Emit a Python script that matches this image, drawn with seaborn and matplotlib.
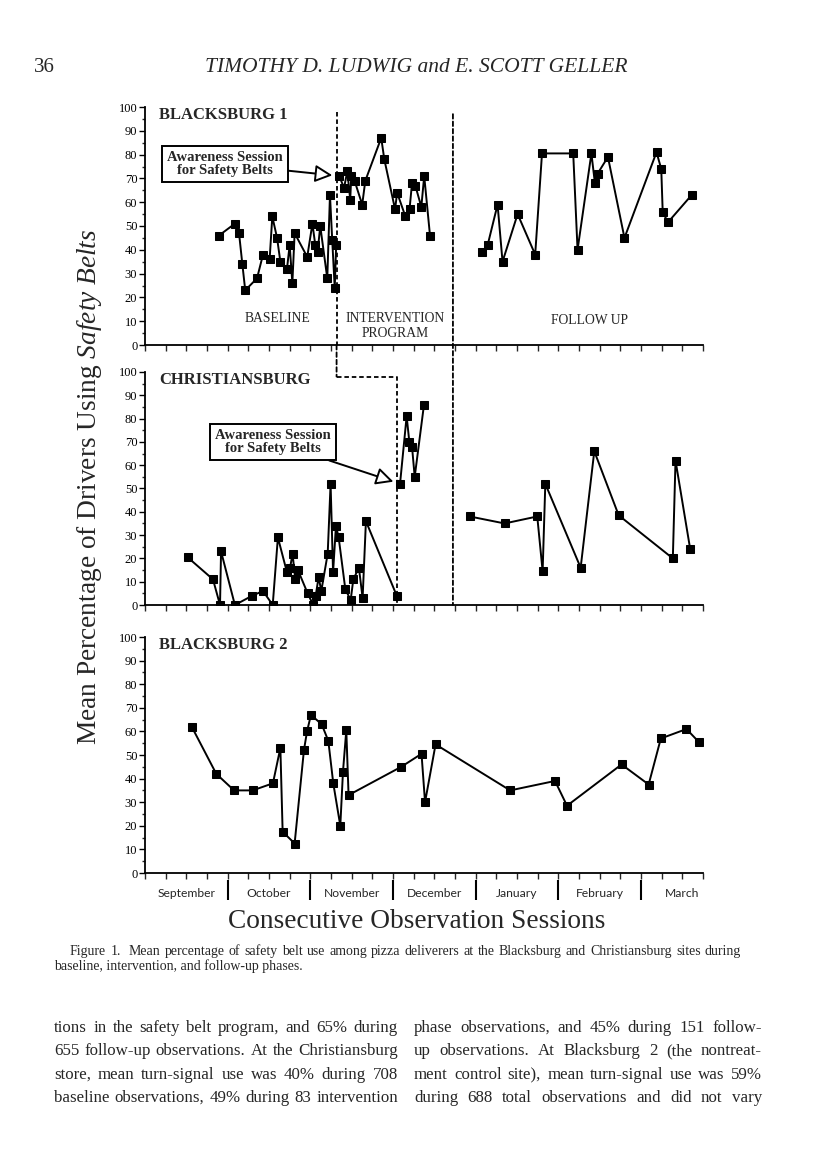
import numpy as np
import pandas as pd
import matplotlib
matplotlib.use("Agg")
import matplotlib.pyplot as plt
import seaborn as sns
from matplotlib.patches import ConnectionPatch
from matplotlib.ticker import MultipleLocator

# ---------------- data (x = weeks from start of September) ----------------
b1_base_x = [3.58, 4.35, 4.55, 4.71, 4.85, 5.42, 5.71, 6.03, 6.16, 6.39, 6.55, 6.87, 7.0, 7.13, 7.24,
             7.85, 8.1, 8.24, 8.35, 8.48, 8.82, 8.95, 9.06, 9.18, 9.25]
b1_base_y = [46, 51, 47, 34, 23, 28, 38, 36, 54, 45, 35, 32, 42, 26, 47,
             37, 51, 42, 39, 50, 28, 63, 44, 24, 42]
b1_int_x = [9.4, 9.63, 9.79, 9.93, 9.98, 10.14, 10.51, 10.66, 11.43, 11.58, 12.1, 12.2, 12.6, 12.8,
            12.92, 13.08, 13.37, 13.51, 13.79]
b1_int_y = [71, 66, 73, 61, 71, 69, 59, 69, 87, 78, 57, 64, 54, 57, 68, 67, 58, 71, 46]
b1_fu_x = [16.3, 16.58, 17.06, 17.3, 18.03, 18.88, 19.21, 20.72, 20.93, 21.6, 21.77, 21.9, 22.4, 23.2,
           24.75, 24.98, 25.05, 25.3, 26.45]
b1_fu_y = [39, 42, 59, 35, 55, 38, 80.5, 80.5, 40, 80.5, 68, 72, 79, 45, 81, 74, 56, 51.5, 63]

ch_base_x = [2.06, 3.29, 3.63, 3.68, 4.35, 5.19, 5.71, 6.18, 6.43, 6.87, 7.02, 7.14, 7.27, 7.4, 7.87,
             8.14, 8.26, 8.4, 8.53, 8.84, 8.98, 9.1, 9.24, 9.37, 9.69, 9.95, 10.08, 10.35, 10.53, 10.69, 12.18]
ch_base_y = [20.5, 11, 0, 23, 0, 4, 6, 0, 29, 14, 16, 22, 11, 15, 5,
             0, 4, 12, 6, 22, 52, 14, 34, 29, 7, 2, 11, 16, 3, 36, 4]
ch_int_x = [12.34, 12.66, 12.79, 12.92, 13.05, 13.5]
ch_int_y = [52, 81, 70, 68, 55, 86]
ch_fu_x = [15.71, 17.4, 18.98, 19.24, 19.37, 21.08, 21.74, 22.92, 25.54, 25.67, 26.38]
ch_fu_y = [38, 35, 38, 14.5, 52, 16, 66, 38.5, 20, 62, 24]

b2_x = [2.26, 3.45, 4.31, 5.21, 6.19, 6.55, 6.66, 7.24, 7.69, 7.84, 8.03, 8.55, 8.87, 9.11, 9.45,
        9.58, 9.74, 9.85, 12.4, 13.38, 13.55, 14.06, 17.67, 19.84, 20.42, 23.06, 24.37, 24.96, 26.2, 26.8]
b2_y = [62, 42, 35, 35, 38, 53, 17.5, 12.5, 52, 60, 67, 63, 56, 38, 20,
        43, 60.5, 33, 45, 50.5, 30, 54.5, 35, 39, 28.5, 46, 37.5, 57, 61, 55.5]

months = ["September", "October", "November", "December", "January", "February", "March"]
month_centers = [2, 6, 10, 14, 18, 22, 26]
month_bounds = [4, 8, 12, 16, 20, 24]
phase1_line = 9.27
phase2_line = 14.9
ch_phase_line = 12.2

# ---------------- figure ----------------
sns.set_theme(style="ticks")
plt.rcParams["font.family"] = ["Liberation Serif", "DejaVu Serif"]
plt.rcParams["mathtext.fontset"] = "custom"
plt.rcParams["mathtext.rm"] = "Liberation Serif"
plt.rcParams["mathtext.it"] = "Liberation Serif:italic"

W, H = 816, 1172
fig = plt.figure(figsize=(W / 100, H / 100), dpi=100)
fig.patch.set_facecolor("white")

def fx(px):
    return px / W

def fy(py):
    return 1 - py / H

left_px, right_px = 145, 703
panels = [(107, 345), (372, 605), (637, 873)]
axes = []
for top, bot in panels:
    ax = fig.add_axes([fx(left_px), fy(bot), (right_px - left_px) / W, (bot - top) / H])
    axes.append(ax)

def draw(ax, xs, ys):
    df = pd.DataFrame({"x": xs, "y": ys})
    sns.lineplot(data=df, x="x", y="y", ax=ax, color="black", lw=1.4, marker="s",
                 markersize=6, markeredgecolor="black", markerfacecolor="black",
                 sort=False, estimator=None)

draw(axes[0], b1_base_x, b1_base_y)
draw(axes[0], b1_int_x, b1_int_y)
draw(axes[0], b1_fu_x, b1_fu_y)
draw(axes[1], ch_base_x, ch_base_y)
draw(axes[1], ch_int_x, ch_int_y)
draw(axes[1], ch_fu_x, ch_fu_y)
draw(axes[2], b2_x, b2_y)

for ax in axes:
    ax.set_xlim(0, 27)
    ax.set_ylim(0, 100)
    ax.set_facecolor("white")
    for s in ["top", "right"]:
        ax.spines[s].set_visible(False)
    for s in ["left", "bottom"]:
        ax.spines[s].set_linewidth(1.3)
        ax.spines[s].set_color("black")
    ax.yaxis.set_major_locator(MultipleLocator(10))
    ax.yaxis.set_minor_locator(MultipleLocator(5))
    ax.xaxis.set_major_locator(MultipleLocator(1))
    ax.tick_params(axis="y", which="major", length=4, width=1, direction="out",
                   labelsize=9, pad=1.5, colors="black")
    ax.tick_params(axis="y", which="minor", length=2.5, width=1, direction="out")
    ax.tick_params(axis="x", which="major", length=4, width=1, direction="out",
                   labelbottom=False)
    ax.set_xlabel("")
    ax.set_ylabel("")
    ax.grid(False)

titles = ["BLACKSBURG 1", "CHRISTIANSBURG", "BLACKSBURG 2"]
for ax, t in zip(axes, titles):
    ax.text(0.7, 96.5, t, fontsize=12, fontweight="bold", ha="left", va="center")

# phase labels
axes[0].text(6.4, 11, "BASELINE", fontsize=9.8, ha="center", va="center")
axes[0].text(12.1, 11, "INTERVENTION", fontsize=9.8, ha="center", va="center")
axes[0].text(12.1, 5, "PROGRAM", fontsize=9.8, ha="center", va="center")
axes[0].text(21.5, 10.5, "FOLLOW UP", fontsize=9.8, ha="center", va="center")

# dashed phase lines
dash = (0, (2.5, 1.6))
axes[0].plot([phase1_line, phase1_line], [98, 0], color="black", lw=1.3, linestyle=dash, clip_on=False)
cp = ConnectionPatch(xyA=(phase1_line, 0), coordsA=axes[0].transData,
                     xyB=(phase1_line, 98), coordsB=axes[1].transData,
                     color="black", lw=1.3, linestyle=dash)
fig.add_artist(cp)
axes[1].plot([phase1_line, ch_phase_line, ch_phase_line], [98, 98, 0], color="black", lw=1.3,
             linestyle=dash, clip_on=False)
cp2 = ConnectionPatch(xyA=(phase2_line, 97), coordsA=axes[0].transData,
                      xyB=(phase2_line, 0), coordsB=axes[1].transData,
                      color="black", lw=1.3, linestyle=dash)
fig.add_artist(cp2)

# awareness annotations
arrow = dict(arrowstyle="-|>,head_length=1.0,head_width=0.5", fc="white", ec="black", lw=1.4,
             shrinkA=0, shrinkB=5)
box = dict(boxstyle="square,pad=0.35", fc="white", ec="black", lw=1.4)
axes[0].annotate("Awareness Session\nfor Safety Belts", xy=(b1_int_x[0], b1_int_y[0]), xytext=(3.87, 76),
                 fontsize=10.5, fontweight="bold", ha="center", va="center", linespacing=0.95,
                 bbox=box, arrowprops=arrow)
axes[1].annotate("Awareness Session\nfor Safety Belts", xy=(ch_int_x[0], ch_int_y[0]), xytext=(6.19, 70),
                 fontsize=10.5, fontweight="bold", ha="center", va="center", linespacing=0.95,
                 bbox=box, arrowprops=arrow)

# month separators and labels in bottom panel
ax3 = axes[2]
ax3.vlines(month_bounds, -3, -11.5, color="black", lw=1.5, clip_on=False)
for m, c in zip(months, month_centers):
    ax3.text(c, -8.5, m, fontsize=8.7, family=["Lato", "DejaVu Sans"], ha="center", va="center")
ax3.set_ylim(0, 100)

# axis titles
fig.text(fx(90), fy(487), r"Mean Percentage of Drivers Using $\mathit{Safety\ Belts}$",
         rotation=90, fontsize=19.7, ha="center", va="center")
fig.text(fx(417), fy(922), "Consecutive Observation Sessions", fontsize=19.7, ha="center", va="center")

# page header
fig.text(fx(44), fy(68), "36", fontsize=15, ha="center", va="center")
fig.text(fx(416), fy(68), "TIMOTHY D. LUDWIG and E. SCOTT GELLER", fontsize=15.5, style="italic",
         ha="center", va="center")

renderer = fig.canvas.get_renderer()

def justify(line, x0, x1, y_base, size):
    words = line.split(" ")
    texts = [fig.text(0, fy(y_base), w, fontsize=size, ha="left", va="baseline") for w in words]
    widths = [t.get_window_extent(renderer).width for t in texts]
    gap = (x1 - x0 - sum(widths)) / max(len(words) - 1, 1)
    x = x0
    for t, wd in zip(texts, widths):
        t.set_x(fx(x))
        x += wd + gap

# caption
justify("Figure 1.  Mean percentage of safety belt use among pizza deliverers at the Blacksburg and Christiansburg sites during",
        70, 741, 955, 10)
fig.text(fx(54), fy(970), "baseline, intervention, and follow-up phases.", fontsize=10, ha="left", va="baseline")

left_lines = ["tions in the safety belt program, and 65% during",
              "655 follow-up observations. At the Christiansburg",
              "store, mean turn-signal use was 40% during 708",
              "baseline observations, 49% during 83 intervention"]
right_lines = ["phase observations, and 45% during 151 follow-",
               "up observations. At Blacksburg 2 (the nontreat-",
               "ment control site), mean turn-signal use was 59%",
               "during 688 total observations and did not vary"]
ys = [1032, 1055, 1079, 1102]
for ln, yb in zip(left_lines, ys):
    justify(ln, 54, 398, yb, 12.2)
for ln, yb in zip(right_lines, ys):
    justify(ln, 414, 762, yb, 12.2)

fig.savefig("out.png", dpi=100, facecolor="white")
